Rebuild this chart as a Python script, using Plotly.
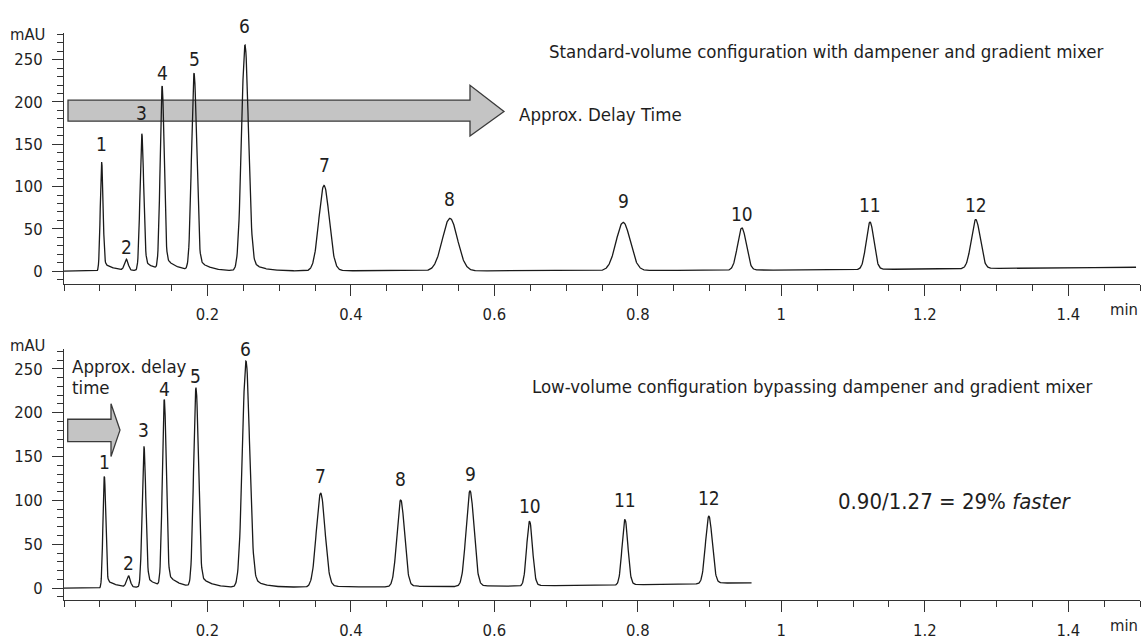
import numpy as np
import plotly.graph_objects as go

# ---------------- data ----------------
peak_labels = ["1", "2", "3", "4", "5", "6", "7", "8", "9", "10", "11", "12"]

# standard-volume configuration (top)
std_rt = [0.0525, 0.0868, 0.1085, 0.1368, 0.1813, 0.2523, 0.3625, 0.5380, 0.7795, 0.9450, 1.1236, 1.2710]
std_height = [129, 13, 162, 217, 233, 267, 101, 62, 57, 50, 56, 58]
std_sigma = [0.0019, 0.0025, 0.0025, 0.0027, 0.0035, 0.0048, 0.0072, 0.0105, 0.0098, 0.0060, 0.0053, 0.0062]
std_tail = [0.09, 0.06, 0.09, 0.09, 0.08, 0.07, 0.03, 0.015, 0.015, 0.015, 0.015, 0.015]
std_base_t = [0.0, 0.047, 0.3, 0.7, 1.0, 1.2, 1.495]
std_base_y = [0.0, 0.0, 0.3, 0.5, 1.3, 2.5, 4.7]

# low-volume configuration (bottom)
low_rt = [0.0562, 0.0897, 0.1115, 0.1398, 0.1840, 0.2537, 0.3578, 0.4694, 0.5660, 0.6490, 0.7820, 0.8990]
low_height = [128, 13, 161, 213, 227, 258, 107, 99, 109, 74, 75, 77]
low_sigma = [0.0019, 0.0025, 0.0025, 0.0027, 0.0033, 0.0050, 0.0060, 0.0053, 0.0055, 0.0040, 0.0040, 0.0047]
low_tail = [0.09, 0.06, 0.09, 0.09, 0.08, 0.07, 0.03, 0.03, 0.03, 0.03, 0.03, 0.03]
low_base_t = [0.0, 0.051, 0.35, 0.6, 0.8, 0.959]
low_base_y = [0.0, 0.0, 1.2, 2.0, 3.5, 6.0]

x_tickvals = [0.2, 0.4, 0.6, 0.8, 1.0, 1.2, 1.4]
x_ticktext = ["0.2", "0.4", "0.6", "0.8", "1", "1.2", "1.4"]
y_tickvals = [0, 50, 100, 150, 200, 250]
y_ticktext = ["0", "50", "100", "150", "200", "250"]

# ---------------- build traces ----------------
def peak(t, rt, h, s, a, tau=0.015):
    d = t - rt
    g = np.exp(-0.5 * (d / s) ** 2)
    tail = a * np.exp(-np.clip(d, 0, None) / tau) * (1 - g)
    return h * np.where(d < 0, g, g + tail)


def chrom(t_end, rts, hs, sig, tails, bt, by):
    t = np.arange(0.0, t_end, 0.0005)
    y = np.interp(t, bt, by)
    for rt, h, s, a in zip(rts, hs, sig, tails):
        y = y + peak(t, rt, h, s, a)
    return t, y


t1, y1 = chrom(1.495, std_rt, std_height, std_sigma, std_tail, std_base_t, std_base_y)
t2, y2 = chrom(0.959, low_rt, low_height, low_sigma, low_tail, low_base_t, low_base_y)

FONT = "Liberation Sans Narrow, Arial Narrow, DejaVu Sans Condensed, sans-serif"
TXT = "#1e1e1e"
LINE = "#1a1a1a"

fig = go.Figure()
fig.add_trace(go.Scatter(x=t1, y=y1, mode="lines", line=dict(color=LINE, width=1.3),
                         xaxis="x", yaxis="y", showlegend=False, hoverinfo="skip"))
fig.add_trace(go.Scatter(x=t2, y=y2, mode="lines", line=dict(color=LINE, width=1.3),
                         xaxis="x2", yaxis="y2", showlegend=False, hoverinfo="skip"))

# ---------------- layout geometry ----------------
W, H = 1141, 641
L, R, T, B = 64, 1, 33, 34
PW, PH = W - L - R, H - T - B


def px(x):
    return (x - L) / PW


def py(y):
    return (H - B - y) / PH


top_dom = [py(287), 1.0]
bot_dom = [0.0, py(353)]


def xax(anchor):
    return dict(range=[0, 1.5], domain=[0, 1], anchor=anchor, showline=True, linecolor="#333",
                linewidth=1.2, ticks="outside", ticklen=11, tickwidth=1.2, tickcolor="#333",
                tickmode="array", tickvals=x_tickvals, ticktext=x_ticktext,
                tickfont=dict(family=FONT, size=16.5, color=TXT), ticklabelstandoff=4,
                showgrid=False, zeroline=False,
                minor=dict(tickmode="linear", tick0=0, dtick=0.05, ticks="outside", ticklen=6,
                           tickwidth=1.2, tickcolor="#333", showgrid=False))


def yax(anchor, dom, rng):
    return dict(range=rng, domain=dom, anchor=anchor, showline=True, linecolor="#333",
                linewidth=1.2, ticks="outside", ticklen=11, tickwidth=1.2, tickcolor="#333",
                tickmode="array", tickvals=y_tickvals, ticktext=y_ticktext,
                tickfont=dict(family=FONT, size=16.5, color=TXT), ticklabelstandoff=6,
                showgrid=False, zeroline=False,
                minor=dict(tickmode="linear", tick0=0, dtick=10, ticks="outside", ticklen=6,
                           tickwidth=1.2, tickcolor="#333", showgrid=False))


fig.update_layout(
    width=W, height=H, margin=dict(l=L, r=R, t=T, b=B),
    paper_bgcolor="white", plot_bgcolor="white",
    font=dict(family=FONT, color=TXT),
    xaxis=xax("y"), yaxis=yax("x", top_dom, [-15, 281.5]),
    xaxis2=xax("y2"), yaxis2=yax("x2", bot_dom, [-13.5, 272.5]),
    showlegend=False,
)

ann = []
# peak labels
top_dy = [17.7, 12, 21, 13.7, 14.7, 19.3, 20.7, 19.7, 21, 14, 17, 14.7]
bot_dy = [14.3, 12.3, 16.3, 10.7, 11.3, 12.3, 17.3, 21, 17, 14.7, 19, 17.7]
for lab, rt, dy in zip(peak_labels, std_rt, top_dy):
    ann.append(dict(x=rt, y=float(np.interp(rt, t1, y1)), xref="x", yref="y", text=lab,
                    showarrow=False, yshift=dy, xanchor="center", yanchor="middle",
                    font=dict(family=FONT, size=19, color=TXT)))
for lab, rt, dy in zip(peak_labels, low_rt, bot_dy):
    ann.append(dict(x=rt, y=float(np.interp(rt, t2, y2)), xref="x2", yref="y2", text=lab,
                    showarrow=False, yshift=dy, xanchor="center", yanchor="middle",
                    font=dict(family=FONT, size=19, color=TXT)))


def text(x, y, s, size, anchor="left"):
    ann.append(dict(x=px(x), y=py(y), xref="paper", yref="paper", text=s, showarrow=False,
                    xanchor=anchor, yanchor="middle", font=dict(family=FONT, size=size, color=TXT)))


text(27, 35, "mAU", 16.5, "center")
text(27, 349, "mAU", 16.5, "center")
text(1124, 313, "min", 16.5, "center")
text(1124, 633, "min", 16.5, "center")
text(547, 52, "Standard-volume configuration with dampener and gradient mixer", 18.5)
text(517, 115, "Approx. Delay Time", 18.5)
text(530, 391, "Low-volume configuration bypassing dampener and gradient mixer", 18.5)
text(70, 371, "Approx. delay", 18.5)
text(70, 392, "time", 18.5)
text(836, 507, "0.90/1.27 = 29% <i>faster</i>", 22)
fig.update_layout(annotations=ann)


def arrow(pts):
    d = "M " + " L ".join(f"{px(x):.5f},{py(y):.5f}" for x, y in pts) + " Z"
    return dict(type="path", path=d, xref="paper", yref="paper", layer="below",
                fillcolor="#c4c4c4", line=dict(color="#3a3a3a", width=1.3))


fig.update_layout(shapes=[
    arrow([(68, 101), (470, 101), (470, 86), (504, 112.5), (470, 137.3), (470, 122.3), (68, 122.3)]),
    arrow([(67.7, 424), (111, 424), (111, 408.3), (120, 435), (111, 461.7), (111, 446.7), (67.7, 446.7)]),
])

fig.write_html("out.html")
